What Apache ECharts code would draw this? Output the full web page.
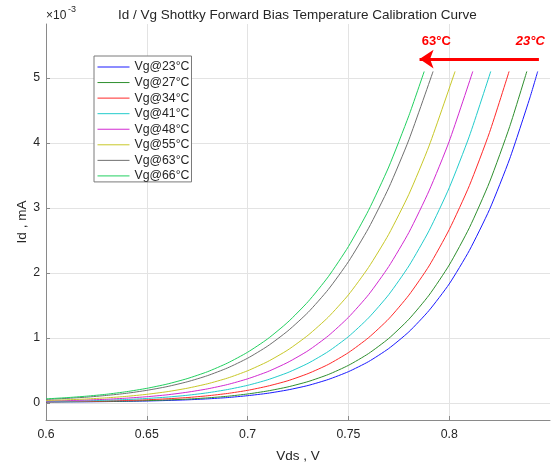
<!DOCTYPE html>
<html>
<head>
<meta charset="utf-8">
<script src="https://cdn.jsdelivr.net/npm/echarts@6/dist/echarts.min.js"></script>
<style>
html,body{margin:0;padding:0;background:#fff;}
#c{width:551px;height:468px;}
</style>
</head>
<body>
<div id="c"></div>
<script>
// Vds sample points (V)
const vds = [0.60,0.61,0.62,0.63,0.64,0.65,0.66,0.67,0.68,0.69,0.70,0.71,0.72,0.73,0.74,0.75,0.76,0.77,0.78,0.79,0.80,0.81,0.82,0.83,0.84];
// Id values (x10^-3 A)
const id23 = [0.017,0.019,0.020,0.023,0.027,0.032,0.040,0.050,0.065,0.085,0.114,0.151,0.203,0.271,0.363,0.483,0.638,0.839,1.096,1.424,1.832,2.347,2.977,3.756,4.693];
const id27 = [0.018,0.020,0.023,0.026,0.031,0.038,0.048,0.061,0.080,0.105,0.140,0.187,0.249,0.331,0.439,0.580,0.762,0.994,1.289,1.660,2.123,2.696,3.398,4.252];
const id34 = [0.021,0.024,0.028,0.033,0.041,0.051,0.066,0.085,0.112,0.148,0.196,0.261,0.344,0.454,0.594,0.776,1.006,1.295,1.660,2.109,2.668,3.344,4.162];
const id41 = [0.025,0.029,0.035,0.044,0.055,0.071,0.092,0.120,0.158,0.208,0.273,0.359,0.470,0.612,0.793,1.022,1.310,1.667,2.109,2.651,3.310,4.105];
const id48 = [0.031,0.038,0.047,0.059,0.076,0.098,0.127,0.167,0.218,0.285,0.373,0.484,0.627,0.806,1.034,1.318,1.667,2.100,2.624,3.264,4.025];
const id55 = [0.040,0.050,0.063,0.081,0.104,0.135,0.175,0.228,0.296,0.384,0.497,0.639,0.818,1.044,1.321,1.664,2.087,2.596,3.211,3.954];
const id63 = [0.057,0.072,0.091,0.118,0.151,0.196,0.253,0.327,0.421,0.540,0.690,0.878,1.111,1.395,1.746,2.174,2.690,3.310,4.049];
const id66 = [0.065,0.083,0.106,0.136,0.176,0.227,0.292,0.376,0.481,0.615,0.782,0.989,1.246,1.560,1.943,2.407,2.965,3.631,4.421];
// end points of each curve
const vTop = [0.8439,0.8385,0.8297,0.8206,0.8117,0.8029,0.7920,0.7876];
const iTop = 5.1;
const names = ['Vg@23°C','Vg@27°C','Vg@34°C','Vg@41°C','Vg@48°C','Vg@55°C','Vg@63°C','Vg@66°C'];
const colors = ['#1a1aff','#2e8f2e','#ff2a2a','#22cccc','#d22ad2','#c8c828','#707070','#22d060'];
const allIds = [id23,id27,id34,id41,id48,id55,id63,id66];
// annotation arrow (data coords)
const arrowFrom = [0.8445, 5.29];
const arrowTo = [0.7853, 5.29];
const labelHot = {text:'63°C', pos:[0.7936, 5.56]};
const labelCold = {text:'23°C', pos:[0.8402, 5.56]};

const FONT = "'Liberation Sans', Arial, sans-serif";
const TXT = '#262626';
const AX = '#8a8a8a';

const series = allIds.map((arr, k) => {
  const data = arr.map((v, i) => [vds[i], v]);
  data.push([vTop[k], iTop]);
  return {
    name: names[k], type: 'line', data: data,
    symbol: 'none', smooth: 0.2,
    lineStyle: {color: colors[k], width: 1},
    itemStyle: {color: colors[k]},
    z: 3 + k
  };
});
series[0].markLine = {
  silent: true, animation: false,
  symbol: ['none', 'arrow'], symbolSize: 14,
  lineStyle: {color: '#ff0000', width: 3, type: 'solid'},
  itemStyle: {color: '#ff0000'},
  label: {show: false},
  data: [[{coord: arrowFrom}, {coord: arrowTo}]]
};
series[0].markPoint = {
  silent: true, animation: false, symbol: 'circle', symbolSize: 0,
  data: [
    {coord: labelHot.pos, label: {show: true, formatter: labelHot.text, color: '#ff0000', fontWeight: 'bold', fontSize: 13, fontFamily: FONT, position: 'inside'}},
    {coord: labelCold.pos, label: {show: true, formatter: labelCold.text, color: '#ff0000', fontWeight: 'bold', fontStyle: 'italic', fontSize: 13, fontFamily: FONT, position: 'inside'}}
  ]
};

const chart = echarts.init(document.getElementById('c'), null, {renderer: 'canvas'});
chart.setOption({
  animation: false,
  backgroundColor: '#ffffff',
  textStyle: {fontFamily: FONT},
  title: {
    text: 'Id / Vg Shottky Forward Bias Temperature Calibration Curve',
    left: 118, top: 8, padding: 0,
    textStyle: {fontFamily: FONT, fontSize: 13.5, fontWeight: 'normal', color: TXT}
  },
  graphic: [
    {type: 'text', left: 46, top: 10, style: {text: '×10', font: "12px 'Liberation Sans', Arial", fill: TXT}},
    {type: 'text', left: 68, top: 5, style: {text: '-3', font: "9px 'Liberation Sans', Arial", fill: TXT}}
  ],
  legend: {
    orient: 'vertical', left: 94, top: 56,
    padding: [5, 2, 0, 3],
    itemWidth: 32, itemHeight: 12, itemGap: 3.56,
    backgroundColor: '#ffffff', borderColor: '#7a7a7a', borderWidth: 1, borderRadius: 0,
    itemStyle: {opacity: 0, borderWidth: 0},
    lineStyle: {width: 1},
    textStyle: {fontFamily: FONT, fontSize: 12.3, color: TXT},
    data: names
  },
  grid: {left: 46, right: 1, top: 24, bottom: 44, containLabel: false},
  xAxis: {
    type: 'value', min: 0.6, max: 0.85, interval: 0.05,
    name: 'Vds , V', nameLocation: 'middle', nameGap: 29, nameMoveOverlap: false,
    nameTextStyle: {fontFamily: FONT, fontSize: 13.5, color: TXT},
    axisLine: {show: true, onZero: false, lineStyle: {color: AX, width: 1}},
    axisTick: {show: true, inside: true, length: 4, lineStyle: {color: AX}},
    axisLabel: {fontFamily: FONT, fontSize: 12.3, color: TXT, margin: 9, showMaxLabel: false},
    splitLine: {show: true, showMinLine: false, showMaxLine: false, lineStyle: {color: '#e3e3e3', width: 1}}
  },
  yAxis: {
    type: 'value', min: -0.26, max: 5.83,
    name: 'Id , mA', nameLocation: 'middle', nameGap: 17, nameMoveOverlap: false,
    nameTextStyle: {fontFamily: FONT, fontSize: 13.5, color: TXT},
    axisLine: {show: true, onZero: false, lineStyle: {color: AX, width: 1}},
    axisTick: {show: true, inside: true, length: 4, lineStyle: {color: AX}},
    axisLabel: {fontFamily: FONT, fontSize: 12.3, color: TXT, margin: 6, showMinLabel: false, showMaxLabel: false},
    splitLine: {show: true, showMinLine: false, showMaxLine: false, lineStyle: {color: '#e3e3e3', width: 1}}
  },
  series: series
});
</script>
</body>
</html>
